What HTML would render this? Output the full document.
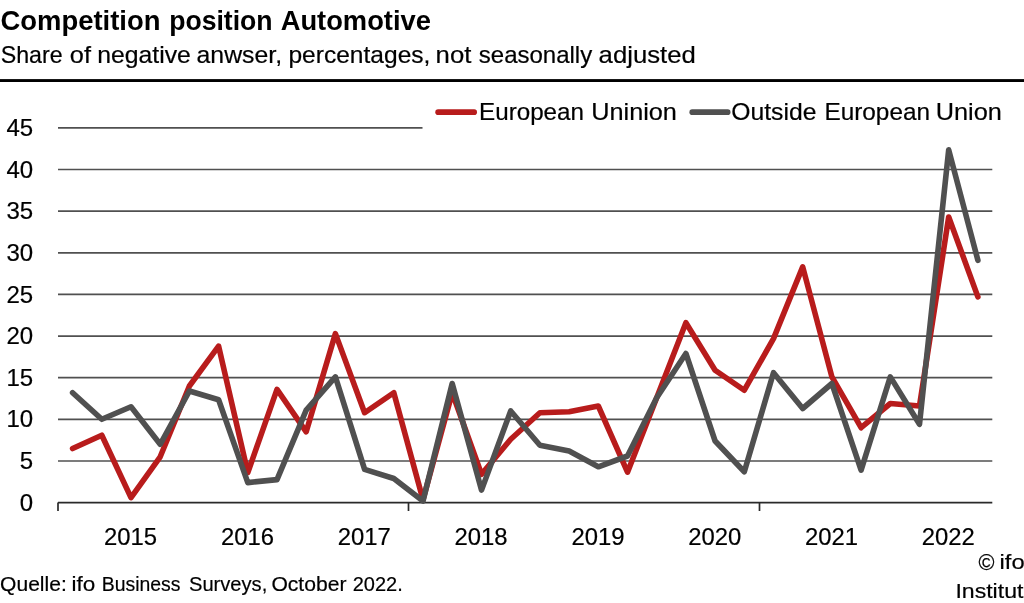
<!DOCTYPE html>
<html><head><meta charset="utf-8"><title>Competition position Automotive</title>
<style>
html,body{margin:0;padding:0;background:#fff;}
body{width:1024px;height:603px;overflow:hidden;}
svg{display:block;filter:blur(0.35px);}
text{font-family:"Liberation Sans",sans-serif;fill:#000;stroke:#000;stroke-width:0.2px;}
text.b{stroke:none;}
</style></head><body>
<svg width="1024" height="603" viewBox="0 0 1024 603">
<rect width="1024" height="603" fill="#fff"/>
<text y="29.6" font-size="27.7" font-weight="bold" class="b"><tspan x="0.51" textLength="159.99" lengthAdjust="spacingAndGlyphs">Competition</tspan> <tspan x="169.14" textLength="103.44" lengthAdjust="spacingAndGlyphs">position</tspan> <tspan x="280.7" textLength="150.19" lengthAdjust="spacingAndGlyphs">Automotive</tspan></text>
<text y="63.1" font-size="24"><tspan x="0.73" textLength="61.9" lengthAdjust="spacingAndGlyphs">Share</tspan> <tspan x="69.85" textLength="21.1" lengthAdjust="spacingAndGlyphs">of</tspan> <tspan x="97.17" textLength="93.69" lengthAdjust="spacingAndGlyphs">negative</tspan> <tspan x="196.57" textLength="85.46" lengthAdjust="spacingAndGlyphs">anwser,</tspan> <tspan x="288.48" textLength="141.93" lengthAdjust="spacingAndGlyphs">percentages,</tspan> <tspan x="435.63" textLength="35.72" lengthAdjust="spacingAndGlyphs">not</tspan> <tspan x="478.8" textLength="113.4" lengthAdjust="spacingAndGlyphs">seasonally</tspan> <tspan x="598.63" textLength="97.11" lengthAdjust="spacingAndGlyphs">adjusted</tspan></text>
<rect x="0" y="79.1" width="1024" height="2.9" fill="#000"/>
<g stroke="#505050" stroke-width="1.7">
<line x1="58.0" y1="460.98" x2="992.3" y2="460.98"/>
<line x1="58.0" y1="419.34" x2="992.3" y2="419.34"/>
<line x1="58.0" y1="377.70" x2="992.3" y2="377.70"/>
<line x1="58.0" y1="336.06" x2="992.3" y2="336.06"/>
<line x1="58.0" y1="294.42" x2="992.3" y2="294.42"/>
<line x1="58.0" y1="252.78" x2="992.3" y2="252.78"/>
<line x1="58.0" y1="211.14" x2="992.3" y2="211.14"/>
<line x1="58.0" y1="169.50" x2="992.3" y2="169.50"/>
<line x1="58.0" y1="127.86" x2="422.5" y2="127.86"/>
</g>
<g stroke="#2a2a2a" stroke-width="1.7">
<line x1="58.0" y1="502.62" x2="992.3" y2="502.62"/>
<line x1="58" y1="502.62" x2="58" y2="511"/>
<line x1="408.5" y1="502.62" x2="408.5" y2="511"/>
<line x1="759.5" y1="502.62" x2="759.5" y2="511"/>
</g>
<g font-size="24">
<text x="33.2" y="510.7" text-anchor="end">0</text>
<text x="33.2" y="469.1" text-anchor="end">5</text>
<text x="33.2" y="427.4" text-anchor="end">10</text>
<text x="33.2" y="385.8" text-anchor="end">15</text>
<text x="33.2" y="344.2" text-anchor="end">20</text>
<text x="33.2" y="302.5" text-anchor="end">25</text>
<text x="33.2" y="260.9" text-anchor="end">30</text>
<text x="33.2" y="219.2" text-anchor="end">35</text>
<text x="33.2" y="177.6" text-anchor="end">40</text>
<text x="33.2" y="136.0" text-anchor="end">45</text>
<text x="130.6" y="545.4" text-anchor="middle" textLength="53" lengthAdjust="spacingAndGlyphs">2015</text>
<text x="247.4" y="545.4" text-anchor="middle" textLength="53" lengthAdjust="spacingAndGlyphs">2016</text>
<text x="364.2" y="545.4" text-anchor="middle" textLength="53" lengthAdjust="spacingAndGlyphs">2017</text>
<text x="481.1" y="545.4" text-anchor="middle" textLength="53" lengthAdjust="spacingAndGlyphs">2018</text>
<text x="597.9" y="545.4" text-anchor="middle" textLength="53" lengthAdjust="spacingAndGlyphs">2019</text>
<text x="714.7" y="545.4" text-anchor="middle" textLength="53" lengthAdjust="spacingAndGlyphs">2020</text>
<text x="831.5" y="545.4" text-anchor="middle" textLength="53" lengthAdjust="spacingAndGlyphs">2021</text>
<text x="948.3" y="545.4" text-anchor="middle" textLength="53" lengthAdjust="spacingAndGlyphs">2022</text>
</g>
<polyline points="72.6,448.5 101.8,435.2 131.0,497.6 160.2,456.8 189.4,386.0 218.6,346.1 247.8,472.6 277.0,389.4 306.2,431.8 335.4,333.6 364.6,412.7 393.8,392.7 423.0,499.7 452.2,392.7 481.5,474.3 510.7,439.3 539.9,412.7 569.1,411.8 598.3,406.0 627.5,472.2 656.7,397.7 685.9,322.7 715.1,370.2 744.3,390.2 773.5,338.6 802.7,266.9 831.9,376.9 861.1,427.7 890.3,403.5 919.5,406.0 948.7,217.0 977.9,296.9" fill="none" stroke="#B81C1C" stroke-width="5.6" stroke-linejoin="round" stroke-linecap="round"/>
<polyline points="72.6,392.7 101.8,419.3 131.0,406.8 160.2,444.3 189.4,391.0 218.6,399.8 247.8,482.6 277.0,479.6 306.2,410.2 335.4,376.9 364.6,469.3 393.8,478.5 423.0,501.0 452.2,383.5 481.5,490.1 510.7,411.0 539.9,445.2 569.1,451.0 598.3,466.8 627.5,456.0 656.7,397.7 685.9,353.5 715.1,441.0 744.3,471.8 773.5,372.7 802.7,408.5 831.9,383.5 861.1,470.1 890.3,376.9 919.5,424.3 948.7,149.9 977.9,260.3" fill="none" stroke="#505050" stroke-width="5.6" stroke-linejoin="round" stroke-linecap="round"/>
<line x1="438.1" y1="112.15" x2="474.2" y2="112.15" stroke="#B81C1C" stroke-width="5.6" stroke-linecap="round"/>
<line x1="692.2" y1="112.15" x2="727.7" y2="112.15" stroke="#505050" stroke-width="5.6" stroke-linecap="round"/>
<text y="119.8" font-size="24"><tspan x="479.09" textLength="104.87" lengthAdjust="spacingAndGlyphs">European</tspan> <tspan x="591.25" textLength="85.67" lengthAdjust="spacingAndGlyphs">Uninion</tspan></text>
<text y="119.8" font-size="24"><tspan x="731.27" textLength="85.19" lengthAdjust="spacingAndGlyphs">Outside</tspan> <tspan x="824.49" textLength="105.48" lengthAdjust="spacingAndGlyphs">European</tspan> <tspan x="935.75" textLength="66.07" lengthAdjust="spacingAndGlyphs">Union</tspan></text>
<text y="569.1" font-size="21.1"><tspan x="978.4" dy="0.45" font-size="22.3" textLength="15.95" lengthAdjust="spacingAndGlyphs">©</tspan> <tspan x="999.58" dy="-0.45" textLength="25.05" lengthAdjust="spacingAndGlyphs">ifo</tspan></text>
<text y="597.6" font-size="21.1"><tspan x="955.4" textLength="68.04" lengthAdjust="spacingAndGlyphs">Institut</tspan></text>
<text y="591.3" font-size="21.1"><tspan x="0.1" textLength="66.65" lengthAdjust="spacingAndGlyphs">Quelle:</tspan> <tspan x="71.53" textLength="23.75" lengthAdjust="spacingAndGlyphs">ifo</tspan> <tspan x="101.78" textLength="78.72" lengthAdjust="spacingAndGlyphs">Business</tspan> <tspan x="189.0" textLength="78.27" lengthAdjust="spacingAndGlyphs">Surveys,</tspan> <tspan x="271.4" textLength="75.13" lengthAdjust="spacingAndGlyphs">October</tspan> <tspan x="352.65" textLength="50.12" lengthAdjust="spacingAndGlyphs">2022.</tspan></text>
</svg>
</body></html>
